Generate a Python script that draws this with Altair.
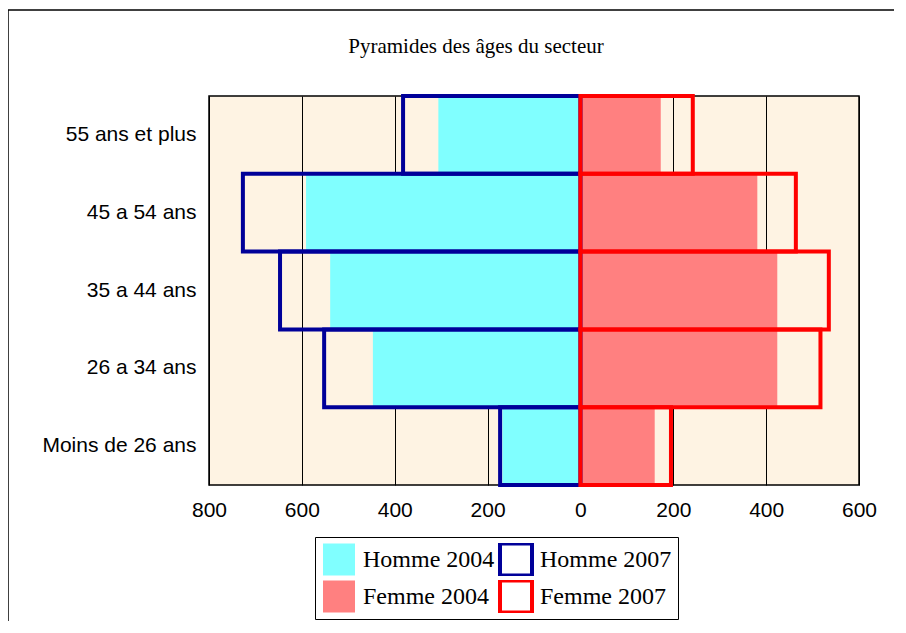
import altair as alt
import pandas as pd

ages = ["55 ans et plus", "45 a 54 ans", "35 a 44 ans", "26 a 34 ans", "Moins de 26 ans"]
homme_2004 = [306, 591, 539, 447, 168]
homme_2007 = [382, 727, 647, 552, 173]
femme_2004 = [173, 381, 424, 424, 160]
femme_2007 = [242, 464, 535, 517, 195]
series = ["Homme 2004", "Femme 2004", "Homme 2007", "Femme 2007"]
x_ticks = [-800, -600, -400, -200, 0, 200, 400, 600]

rows = []
for name, vals, sign in [("Homme 2004", homme_2004, -1), ("Femme 2004", femme_2004, 1),
                         ("Homme 2007", homme_2007, -1), ("Femme 2007", femme_2007, 1)]:
    for a, v in zip(ages, vals):
        rows.append({"age": a, "serie": name, "valeur": sign * v})
df = pd.DataFrame(rows)

fill_range = ["#80FFFF", "#FF8080", "transparent", "transparent"]
stroke_range = ["transparent", "transparent", "#000099", "#FF0000"]

legend = alt.Legend(
    title=None, orient="none", legendX=106, legendY=441, columns=2,
    symbolType="square", symbolSize=1024, symbolStrokeWidth=4,
    labelFont="Liberation Serif", labelFontSize=24, labelColor="black",
    strokeColor="black", fillColor="white", padding=6, rowPadding=4,
    columnPadding=3, labelOffset=6, labelLimit=300, clipHeight=33,
)

bars = alt.Chart(df).mark_bar(strokeWidth=4).encode(
    x=alt.X("valeur:Q", stack=None,
            scale=alt.Scale(domain=[-800, 600], nice=False, zero=True),
            axis=alt.Axis(values=x_ticks, labelExpr="format(abs(datum.value), 'd')",
                          title=None, grid=True, gridColor="black", gridWidth=1,
                          ticks=False, domain=False, labelFont="Liberation Sans",
                          labelFontSize=21, labelColor="black", labelPadding=14,
                          labelFlush=False)),
    y=alt.Y("age:N", sort=ages,
            scale=alt.Scale(paddingInner=0, paddingOuter=0),
            axis=alt.Axis(title=None, ticks=False, domain=False, labelFont="Liberation Sans",
                          labelFontSize=21, labelColor="black", labelPadding=13)),
    fill=alt.Fill("serie:N", scale=alt.Scale(domain=series, range=fill_range), legend=legend),
    stroke=alt.Stroke("serie:N", scale=alt.Scale(domain=series, range=stroke_range), legend=legend),
)

one = alt.Data(values=[{}])
title = alt.Chart(one).mark_text(
    text="Pyramides des âges du secteur", font="Liberation Serif", fontSize=21,
    color="black", align="center", baseline="alphabetic"
).encode(x=alt.value(267), y=alt.value(-43))

frame_top = alt.Chart(one).mark_rule(color="black", strokeWidth=1.5).encode(
    x=alt.value(-201), x2=alt.value(720), y=alt.value(-86))
frame_left = alt.Chart(one).mark_rule(color="black", strokeWidth=1.5).encode(
    x=alt.value(-201), y=alt.value(-86), y2=alt.value(560))

chart = alt.layer(bars, title, frame_top, frame_left).properties(
    width=650, height=389,
    autosize=alt.AutoSizeParams(type="none"),
    padding={"left": 201, "top": 88, "right": 35, "bottom": 136},
).configure_view(fill="#FEF3E3", stroke="black", strokeWidth=1.5)

chart.save("out.html", embed_options={"renderer": "svg", "actions": False})
